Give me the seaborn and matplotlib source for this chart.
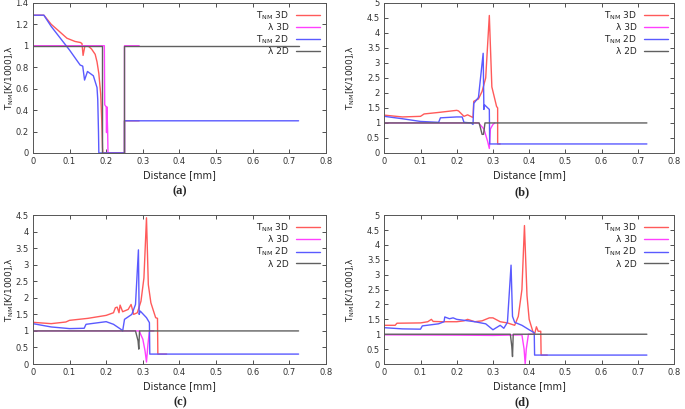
import pandas as pd
import matplotlib
matplotlib.use('Agg')
import matplotlib.pyplot as plt
from matplotlib.ticker import FuncFormatter, MultipleLocator
import seaborn as sns

# Panel (a)
a_t3d_x = [0, 0.03, 0.05, 0.07, 0.093, 0.115, 0.13, 0.134, 0.137, 0.142, 0.15, 0.16, 0.17, 0.175, 0.18, 0.185, 0.188, 0.19, 0.191, 0.25, 0.25, 0.29]
a_t3d_y = [1.285, 1.285, 1.2, 1.14, 1.07, 1.04, 1.03, 1.02, 0.91, 1.0, 1.0, 0.97, 0.92, 0.85, 0.74, 0.55, 0.3, 0.05, 0, 0, 0.3, 0.3]
a_lam3d_x = [0, 0.195, 0.196, 0.2, 0.201, 0.202, 0.204, 0.205, 0.25, 0.25, 0.29]
a_lam3d_y = [1.0, 1.0, 0.45, 0.43, 0.19, 0.43, 0.2, 0, 0, 1.0, 1.0]
a_t2d_x = [0, 0.03, 0.05, 0.075, 0.1, 0.129, 0.136, 0.141, 0.149, 0.165, 0.175, 0.177, 0.179, 0.18, 0.25, 0.25, 0.725]
a_t2d_y = [1.285, 1.285, 1.18, 1.07, 0.96, 0.82, 0.81, 0.68, 0.76, 0.72, 0.61, 0.5, 0.2, 0, 0, 0.3, 0.3]
a_lam2d_x = [0, 0.188, 0.188, 0.25, 0.25, 0.725]
a_lam2d_y = [1, 1, 0, 0, 1, 1]

# Panel (b)
b_t3d_x = [0, 0.05, 0.1, 0.11, 0.15, 0.2, 0.205, 0.22, 0.23, 0.245, 0.247, 0.26, 0.27, 0.28, 0.29, 0.297, 0.31, 0.313, 0.313, 0.32]
b_t3d_y = [1.26, 1.2, 1.22, 1.3, 1.35, 1.42, 1.4, 1.22, 1.27, 1.18, 1.72, 1.8, 2.05, 2.5, 4.58, 2.2, 1.55, 1.5, 0.3, 0.3]
b_lam3d_x = [0, 0.26, 0.275, 0.285, 0.29, 0.293, 0.3, 0.305]
b_lam3d_y = [1, 1, 0.8, 0.4, 0.15, 0.8, 0.95, 1.0]
b_t2d_x = [0, 0.05, 0.1, 0.15, 0.155, 0.2, 0.215, 0.22, 0.24, 0.245, 0.247, 0.26, 0.273, 0.275, 0.277, 0.29, 0.291, 0.725]
b_t2d_y = [1.22, 1.14, 1.05, 1.02, 1.17, 1.2, 1.2, 1.02, 1.0, 0.95, 1.65, 1.85, 3.32, 1.45, 1.6, 1.45, 0.3, 0.3]
b_lam2d_x = [0, 0.262, 0.27, 0.274, 0.278, 0.725]
b_lam2d_y = [1, 1, 0.62, 0.62, 1, 1]

# Panel (c)
c_t3d_x = [0, 0.05, 0.09, 0.1, 0.15, 0.2, 0.22, 0.225, 0.23, 0.235, 0.238, 0.245, 0.26, 0.268, 0.275, 0.285, 0.295, 0.303, 0.31, 0.315, 0.322, 0.335, 0.34, 0.341, 0.365]
c_t3d_y = [1.26, 1.22, 1.27, 1.32, 1.38, 1.47, 1.55, 1.7, 1.72, 1.55, 1.78, 1.58, 1.65, 1.8, 1.5, 1.55, 1.9, 2.6, 4.42, 2.4, 1.85, 1.4, 1.38, 0.3, 0.3]
c_lam3d_x = [0, 0.29, 0.3, 0.306, 0.31, 0.314, 0.318, 0.33]
c_lam3d_y = [1, 1, 0.75, 0.4, 0.06, 0.6, 1.0, 1.0]
c_t2d_x = [0, 0.05, 0.1, 0.14, 0.145, 0.2, 0.22, 0.24, 0.245, 0.25, 0.27, 0.28, 0.288, 0.29, 0.293, 0.31, 0.318, 0.319, 0.725]
c_t2d_y = [1.22, 1.12, 1.07, 1.08, 1.2, 1.28, 1.2, 1.05, 1.0, 1.35, 1.5, 1.8, 3.45, 1.5, 1.6, 1.4, 1.25, 0.3, 0.3]
c_lam2d_x = [0, 0.28, 0.287, 0.289, 0.291, 0.725]
c_lam2d_y = [1, 1, 0.7, 0.45, 1, 1]

# Panel (d)
d_t3d_x = [0, 0.03, 0.035, 0.1, 0.12, 0.13, 0.135, 0.16, 0.2, 0.22, 0.23, 0.25, 0.27, 0.29, 0.3, 0.32, 0.34, 0.36, 0.37, 0.38, 0.387, 0.394, 0.4, 0.41, 0.415, 0.42, 0.425, 0.432, 0.433, 0.45]
d_t3d_y = [1.3, 1.3, 1.37, 1.38, 1.42, 1.5, 1.43, 1.42, 1.42, 1.45, 1.5, 1.42, 1.45, 1.55, 1.55, 1.42, 1.38, 1.3, 1.6, 2.5, 4.65, 2.3, 1.5, 1.1, 1.0, 1.25, 1.1, 1.1, 0.3, 0.3]
d_lam3d_x = [0, 0.2, 0.3, 0.38, 0.386, 0.389, 0.392, 0.398, 0.41]
d_lam3d_y = [0.98, 0.97, 0.96, 0.98, 0.5, 0.0, 0.5, 1.0, 1.0]
d_t2d_x = [0, 0.05, 0.1, 0.105, 0.15, 0.165, 0.167, 0.18, 0.19, 0.2, 0.25, 0.28, 0.3, 0.32, 0.33, 0.34, 0.35, 0.354, 0.36, 0.38, 0.4, 0.414, 0.415, 0.725]
d_t2d_y = [1.22, 1.18, 1.17, 1.28, 1.35, 1.42, 1.58, 1.52, 1.55, 1.5, 1.42, 1.35, 1.15, 1.3, 1.2, 1.4, 3.32, 1.6, 1.4, 1.3, 1.15, 1.05, 0.3, 0.3]
d_lam2d_x = [0, 0.348, 0.352, 0.354, 0.356, 0.725]
d_lam2d_y = [1, 1, 0.6, 0.25, 1, 1]

series_names = ['T$_{\\mathrm{NM}}$ 3D', '\u03bb 3D', 'T$_{\\mathrm{NM}}$ 2D', '\u03bb 2D']
series_colors = ['#ff5a5a', '#ff40ff', '#5a5aff', '#606060']

panels = [
    ('(a)', [(a_t3d_x, a_t3d_y), (a_lam3d_x, a_lam3d_y), (a_t2d_x, a_t2d_y), (a_lam2d_x, a_lam2d_y)], 1.4, 0.2),
    ('(b)', [(b_t3d_x, b_t3d_y), (b_lam3d_x, b_lam3d_y), (b_t2d_x, b_t2d_y), (b_lam2d_x, b_lam2d_y)], 5, 0.5),
    ('(c)', [(c_t3d_x, c_t3d_y), (c_lam3d_x, c_lam3d_y), (c_t2d_x, c_t2d_y), (c_lam2d_x, c_lam2d_y)], 4.5, 0.5),
    ('(d)', [(d_t3d_x, d_t3d_y), (d_lam3d_x, d_lam3d_y), (d_t2d_x, d_t2d_y), (d_lam2d_x, d_lam2d_y)], 5, 0.5),
]

sns.set_style('ticks')
plt.rcParams['font.family'] = ['DejaVu Sans']

fig = plt.figure(figsize=(6.85, 4.09), dpi=100)
# axes boxes in figure fractions: left, bottom, width, height
boxes = [(0.048, 0.626, 0.428, 0.367), (0.561, 0.626, 0.423, 0.367),
         (0.048, 0.110, 0.428, 0.364), (0.561, 0.110, 0.423, 0.364)]
tag_pos = [(0.263, 0.533), (0.762, 0.531), (0.263, 0.017), (0.762, 0.017)]
ylab_x = [-0.058, -0.095, -0.058, -0.095]

for (tag, curves, ymax, ystep), box, tpos, lx in zip(panels, boxes, tag_pos, ylab_x):
    ax = fig.add_axes(box)
    frames = []
    for name, (xs, ys) in zip(series_names, curves):
        frames.append(pd.DataFrame({'x': xs, 'y': ys, 'series': name}))
    df = pd.concat(frames, ignore_index=True)
    sns.lineplot(data=df, x='x', y='y', hue='series', hue_order=series_names,
                 palette=series_colors, sort=False, estimator=None, lw=1, ax=ax)
    handles, labels = ax.get_legend_handles_labels()
    ax.legend(handles, labels, loc='upper right', frameon=False, markerfirst=False,
              fontsize=6.5, handlelength=2.6, labelspacing=0.15, borderaxespad=0.3)
    ax.set_xlim(0, 0.8)
    ax.set_ylim(0, ymax)
    ax.xaxis.set_major_locator(MultipleLocator(0.1))
    ax.yaxis.set_major_locator(MultipleLocator(ystep))
    ax.xaxis.set_major_formatter(FuncFormatter(lambda v, p: '%g' % round(v, 2)))
    ax.yaxis.set_major_formatter(FuncFormatter(lambda v, p: '%g' % round(v, 2)))
    ax.tick_params(direction='in', top=True, right=True, length=3, width=0.6,
                   labelsize=6, pad=3, colors='#333333')
    for sp in ax.spines.values():
        sp.set_color('#555555')
        sp.set_linewidth(0.7)
    ax.set_xlabel('Distance [mm]', fontsize=7, labelpad=3)
    ax.set_ylabel('T$_{\\mathrm{NM}}$[K/1000],\u03bb', fontsize=6.5)
    ax.yaxis.set_label_coords(lx, 0.5)
    fig.text(tpos[0], tpos[1], tag, ha='center', va='center', fontsize=9,
             fontweight='bold', family=['Liberation Serif'])

fig.savefig('out.png', dpi=100)
